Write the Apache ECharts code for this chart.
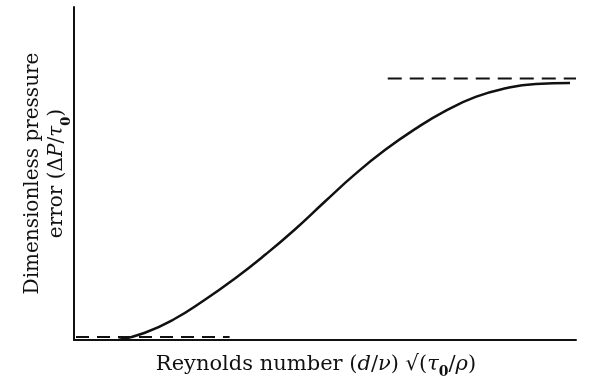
<!DOCTYPE html>
<html>
<head>
<meta charset="utf-8">
<script src="https://cdn.jsdelivr.net/npm/echarts@6/dist/echarts.min.js"></script>
<style>
  html, body { margin: 0; padding: 0; background: #fff; }
  #chart { width: 599px; height: 381px; }
</style>
</head>
<body>
<div id="chart"></div>
<script>
// Pressure error curve vs Reynolds number (arbitrary 0–100 units on both axes)
const reynolds = [8.8, 14, 20, 26, 32, 38, 44, 50, 56, 62, 68, 74, 80, 86, 92, 98.8];
const pressureError = [0, 2.1, 6.3, 12.0, 18.4, 25.5, 33.2, 41.6, 49.8, 57.1, 63.4, 68.8, 73.0, 75.6, 76.9, 77.2];

// Asymptotes: high-Reynolds limit and low-Reynolds limit
const upperAsymptoteX = [62.5, 100];
const upperAsymptoteY = [78.5, 78.5];
const lowerAsymptoteX = [0.4, 31];
const lowerAsymptoteY = [0.9, 0.9];

const pairs = (xs, ys) => xs.map((x, i) => [x, ys[i]]);

const serif = 'DejaVu Serif';
const makeRich = (size) => ({
  n: { fontFamily: serif, fontSize: size, color: '#111' },
  i: { fontFamily: serif, fontSize: size, fontStyle: 'italic', color: '#111' },
  s: { fontFamily: serif, fontSize: Math.round(size * 0.65), fontWeight: 'bold', color: '#111', verticalAlign: 'bottom', padding: [0, 0, -4, 0] }
});

const chart = echarts.init(document.getElementById('chart'), null, { renderer: 'canvas' });
chart.setOption({
  backgroundColor: '#fff',
  animation: false,
  grid: { left: 74, right: 23, top: 7, bottom: 41, containLabel: false, outerBoundsMode: 'none' },
  xAxis: {
    type: 'value', min: 0, max: 100,
    axisLine: { show: true, lineStyle: { color: '#111', width: 2 } },
    axisTick: { show: false }, axisLabel: { show: false }, splitLine: { show: false },
    name: '{n|Reynolds number (}{i|d}{n|/}{i|ν}{n|) √(}{i|τ}{s|0}{n|/}{i|ρ}{n|)}',
    nameLocation: 'middle', nameGap: 14,
    nameTextStyle: { rich: makeRich(21), padding: [0, 18, 0, 0] }
  },
  yAxis: {
    type: 'value', min: 0, max: 100,
    axisLine: { show: true, lineStyle: { color: '#111', width: 2 } },
    axisTick: { show: false }, axisLabel: { show: false }, splitLine: { show: false },
    name: '{n|Dimensionless pressure}\n{n|error (Δ}{i|P}{n|/}{i|τ}{s|0}{n|)}',
    nameLocation: 'middle', nameRotate: 90, nameGap: 5,
    nameTextStyle: { rich: makeRich(20), lineHeight: 24 }
  },
  series: [
    {
      type: 'line', data: pairs(reynolds, pressureError), smooth: 0.5,
      symbol: 'none', lineStyle: { color: '#111', width: 2.5 }, z: 3
    },
    {
      type: 'line', data: pairs(upperAsymptoteX, upperAsymptoteY),
      symbol: 'none', lineStyle: { color: '#111', width: 2, type: [14, 8] }
    },
    {
      type: 'line', data: pairs(lowerAsymptoteX, lowerAsymptoteY),
      symbol: 'none', lineStyle: { color: '#111', width: 2, type: [13, 8] }
    }
  ]
});
</script>
</body>
</html>
